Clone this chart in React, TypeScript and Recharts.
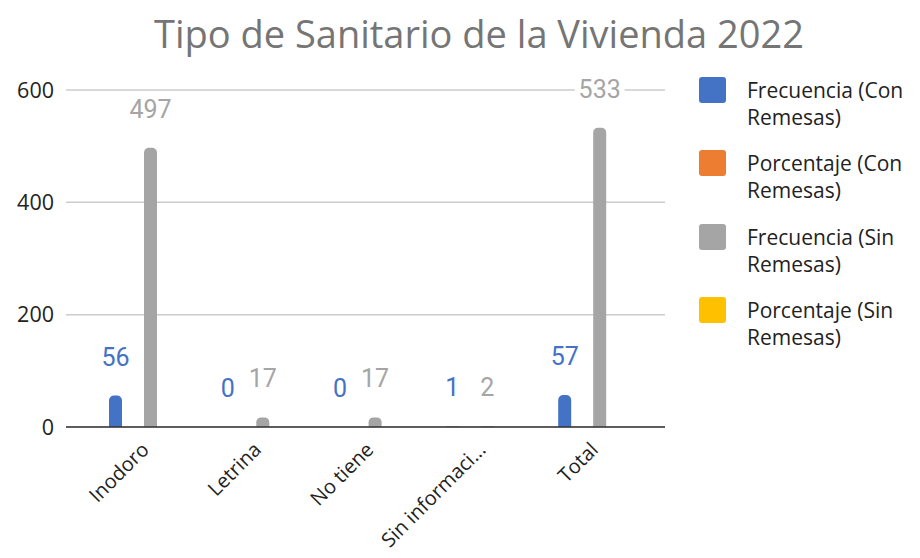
import React from "react";
import { Bar, BarChart, CartesianGrid, LabelList, XAxis, YAxis } from "recharts";

const categories = ["Inodoro", "Letrina", "No tiene", "Sin información", "Total"];
const frecuenciaCon = [56, 0, 0, 1, 57];
const porcentajeCon: (number | null)[] = [null, null, null, null, null];
const frecuenciaSin = [497, 17, 17, 2, 533];
const porcentajeSin: (number | null)[] = [null, null, null, null, null];
const yTicks = [0, 200, 400, 600];

const series = [
  { key: "frecCon", name: "Frecuencia (Con Remesas)", color: "#4472C4", labels: true },
  { key: "pctCon", name: "Porcentaje (Con Remesas)", color: "#ED7D31", labels: false },
  { key: "frecSin", name: "Frecuencia (Sin Remesas)", color: "#A5A5A5", labels: true },
  { key: "pctSin", name: "Porcentaje (Sin Remesas)", color: "#FFC000", labels: false }
];

const data = categories.map((name, i) => ({
  name,
  frecCon: frecuenciaCon[i],
  pctCon: porcentajeCon[i],
  frecSin: frecuenciaSin[i],
  pctSin: porcentajeSin[i]
}));

const UI_FONT = "'Open Sans', sans-serif";

function CategoryTick(props: any) {
  const { x, y, payload } = props;
  const raw = String(payload.value);
  const label = raw.length > 14 ? raw.slice(0, 13) + "..." : raw;
  const ax = x + 8;
  const ay = y + 16;
  return (
    <text
      x={ax}
      y={ay}
      textAnchor="end"
      transform={`rotate(-45, ${ax}, ${ay})`}
      fontFamily={UI_FONT}
      fontSize={20}
      fill="#222"
    >
      {label}
    </text>
  );
}

function makeValueLabel(color: string) {
  return (props: any) => {
    const { x, y, width, value } = props;
    if (value == null) return null;
    const text = String(value);
    const cx = x + width / 2;
    const w = text.length * 14.6 + 6;
    return (
      <g>
        <rect x={cx - w / 2} y={y - 50} width={w} height={24} fill="#fff" />
        <text
          x={cx}
          y={y - 30}
          textAnchor="middle"
          fontFamily="Roboto, sans-serif"
          fontSize={25}
          fill={color}
        >
          {text}
        </text>
      </g>
    );
  };
}

function SeriesLegend() {
  const lineStyle = {
    position: "absolute" as const,
    left: 48,
    fontFamily: UI_FONT,
    fontSize: 21,
    lineHeight: "21px",
    color: "#222",
    whiteSpace: "nowrap" as const
  };
  return (
    <div style={{ position: "absolute", left: 699, top: 77, width: 221 }}>
      {series.map((s) => {
        const cut = s.name.lastIndexOf(" ");
        return (
          <div key={s.key} style={{ position: "relative", height: 73.3 }}>
            <div
              style={{
                position: "absolute",
                left: 0,
                top: 0,
                width: 27,
                height: 26,
                borderRadius: 3,
                background: s.color
              }}
            />
            <div style={{ ...lineStyle, top: 3 }}>{s.name.slice(0, cut)}</div>
            <div style={{ ...lineStyle, top: 30 }}>{s.name.slice(cut + 1)}</div>
          </div>
        );
      })}
    </div>
  );
}

export default function App() {
  return (
    <div
      style={{
        position: "absolute",
        left: 0,
        top: 0,
        width: 920,
        height: 558,
        background: "#fff",
        overflow: "hidden"
      }}
    >
      <div
        style={{
          position: "absolute",
          left: 479,
          top: 7,
          transform: "translateX(-50%)",
          whiteSpace: "nowrap",
          fontFamily: UI_FONT,
          fontSize: 38,
          lineHeight: "52px",
          color: "#757575"
        }}
      >
        Tipo de Sanitario de la Vivienda 2022
      </div>
      <BarChart
        width={920}
        height={558}
        data={data}
        margin={{ top: 90, right: 255, bottom: 0, left: 0 }}
        barSize={13}
        barGap={4.5}
      >
        <CartesianGrid vertical={false} stroke="#cccccc" strokeWidth={1.5} />
        <XAxis
          dataKey="name"
          height={131}
          padding={{ left: 20, right: 17.5 }}
          axisLine={{ stroke: "#333", strokeWidth: 1.5 }}
          tickLine={false}
          interval={0}
          tick={<CategoryTick />}
        />
        <YAxis
          width={66}
          domain={[0, 600]}
          ticks={yTicks}
          axisLine={false}
          tickLine={false}
          tickMargin={6}
          tick={{ fontFamily: UI_FONT, fontSize: 21.5, fill: "#222" }}
        />
        {series.map((s) => (
          <Bar
            key={s.key}
            dataKey={s.key}
            name={s.name}
            fill={s.color}
            radius={[5, 5, 0, 0]}
            minPointSize={s.labels ? 0.01 : 0}
            isAnimationActive={false}
          >
            {s.labels && (
              <LabelList dataKey={s.key} content={makeValueLabel(s.color)} />
            )}
          </Bar>
        ))}
      </BarChart>
      <SeriesLegend />
    </div>
  );
}
